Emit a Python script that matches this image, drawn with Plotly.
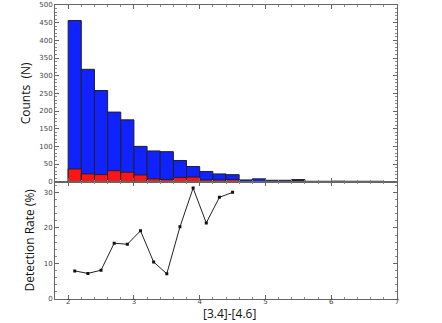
import plotly.graph_objects as go

# histogram bins of [3.4]-[4.6] colour (width 0.2)
bin_centers = [2.1, 2.3, 2.5, 2.7, 2.9, 3.1, 3.3, 3.5, 3.7, 3.9, 4.1, 4.3, 4.5,
               4.7, 4.9, 5.1, 5.3, 5.5]
all_counts = [456, 318, 258, 197, 175, 100, 87, 85, 60, 43, 29, 22, 20,
              5, 8, 4, 4, 6]
det_counts = [36, 22, 20, 31, 27, 19, 8, 6, 12, 13, 5, 5, 6,
              0, 0, 0, 0, 3]

grey_centers = [5.7, 5.9, 6.1, 6.3, 6.5, 6.7]
grey_counts = [2, 2, 3, 2, 2, 2]

rate_x = [2.1, 2.3, 2.5, 2.7, 2.9, 3.1, 3.3, 3.5, 3.7, 3.9, 4.1, 4.3, 4.5]
rate_y = [7.9, 7.2, 8.1, 15.7, 15.4, 19.2, 10.4, 7.1, 20.3, 31.2, 21.4, 28.6, 30.0]

fig = go.Figure()
fig.add_trace(go.Bar(x=grey_centers, y=grey_counts, width=0.2,
                     marker=dict(color="#c8c8c8", line=dict(color="#a0a0a0", width=1)),
                     xaxis="x", yaxis="y"))
fig.add_trace(go.Bar(x=bin_centers, y=all_counts, width=0.2,
                     marker=dict(color="#0f22ff", line=dict(color="#222222", width=1)),
                     xaxis="x", yaxis="y"))
fig.add_trace(go.Bar(x=bin_centers, y=det_counts, width=0.2,
                     marker=dict(color="#ff1515", line=dict(color="#222222", width=1)),
                     xaxis="x", yaxis="y"))
fig.add_trace(go.Scatter(x=rate_x, y=rate_y, mode="lines+markers",
                         line=dict(color="#222222", width=1),
                         marker=dict(color="#111111", size=3, symbol="square"),
                         xaxis="x2", yaxis="y2"))

ax_common = dict(showline=True, linecolor="#666666", linewidth=1, mirror="ticks",
                 ticks="inside", ticklen=4, tickcolor="#666666", showgrid=False,
                 zeroline=False, automargin=False,
                 tickfont=dict(family="DejaVu Sans", size=7, color="#444444"))
minor_style = dict(ticks="inside", ticklen=2, tickcolor="#888888")

fig.update_layout(
    width=442, height=323, barmode="overlay", showlegend=False,
    plot_bgcolor="white", paper_bgcolor="white",
    margin=dict(l=55, r=45, t=5, b=24),
    xaxis=dict(ax_common, range=[1.8, 7], dtick=1, showticklabels=False, anchor="y",
               minor=dict(minor_style, dtick=0.2)),
    yaxis=dict(ax_common, range=[0, 500], dtick=50, domain=[0.399, 1], anchor="x",
               minor=dict(minor_style, dtick=10),
               title=dict(text="Counts  (N)", font=dict(family="Open Sans", size=12, color="#111111"),
                          standoff=6)),
    xaxis2=dict(ax_common, range=[1.8, 7], dtick=1, anchor="y2", matches="x",
                ticklabelstandoff=-4,
                minor=dict(minor_style, dtick=0.2)),
    yaxis2=dict(ax_common, range=[0, 33], dtick=10, domain=[0, 0.399], anchor="x2",
                minor=dict(minor_style, dtick=2),
                title=dict(text="Detection Rate (%)", font=dict(family="Open Sans", size=12, color="#111111"),
                           standoff=6)),
    annotations=[dict(text="[3.4]-[4.6]", x=0.5, y=0, xref="paper", yref="paper",
                      xanchor="center", yanchor="bottom", yshift=-25, xshift=3,
                      showarrow=False,
                      font=dict(family="Open Sans", size=12, color="#111111"))],
)

fig.write_html("out.html", config={"displayModeBar": False},
               post_script="document.body.style.margin='0';")
